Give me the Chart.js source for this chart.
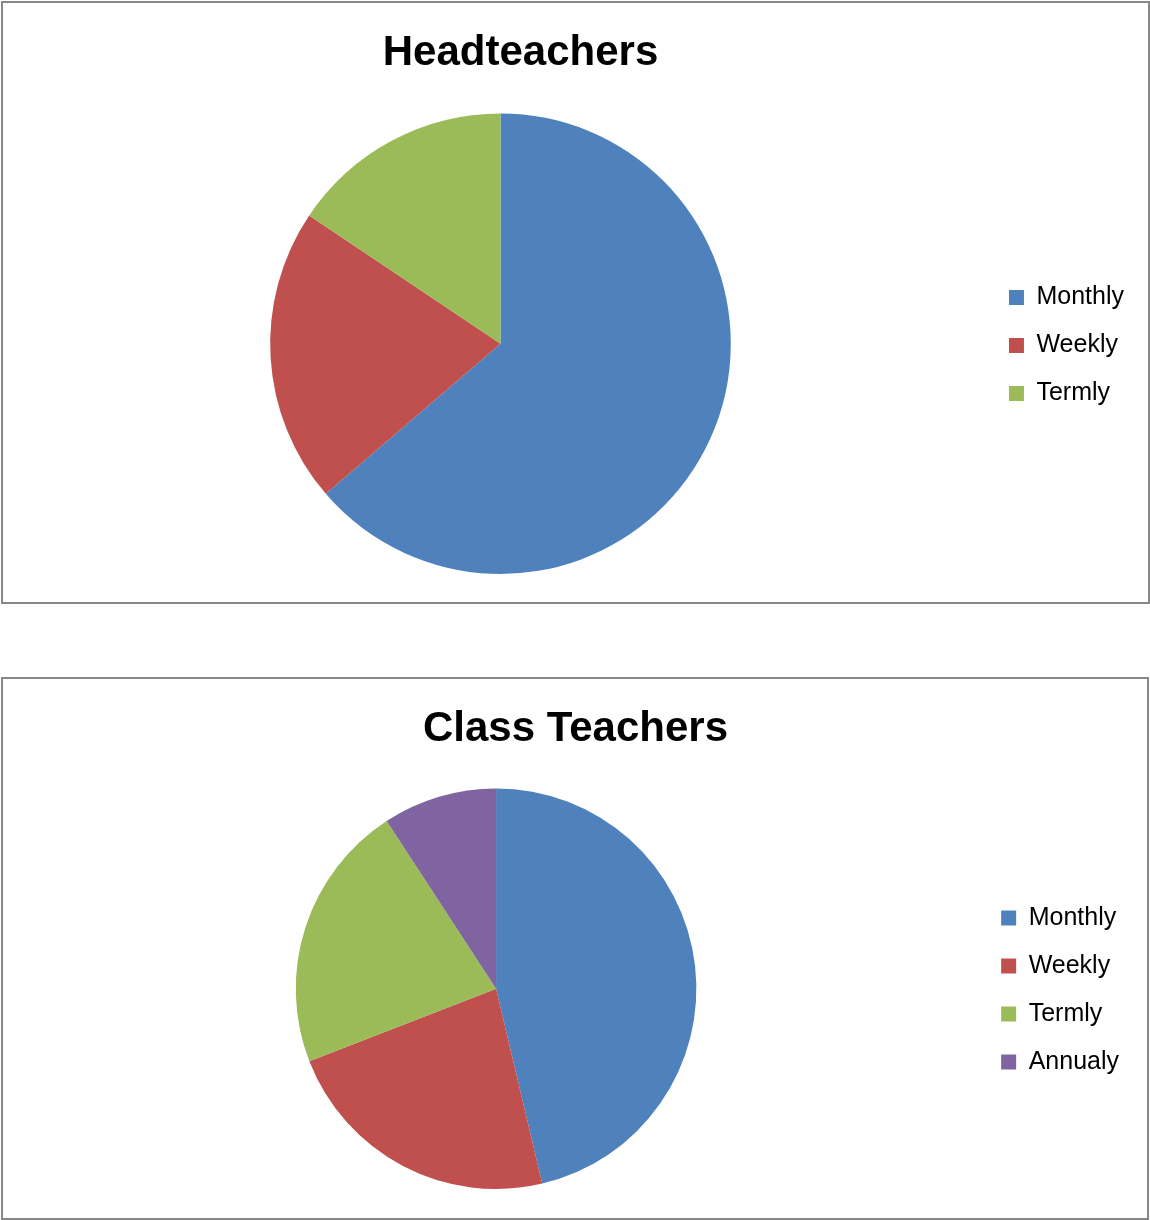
<!DOCTYPE html>
<html>
<head>
<meta charset="utf-8">
<script src="https://cdn.jsdelivr.net/npm/chart.js@4"></script>
<style>
  html, body { margin: 0; padding: 0; background: #fff; width: 1150px; height: 1220px; overflow: hidden; }
  .box { position: absolute; border: 2px solid #878787; background: #fff; }
  #box1 { left: 1px; top: 1px; width: 1145px; height: 599px; }
  #box2 { left: 1px; top: 677px; width: 1144px; height: 539px; }
  canvas { display: block; }
</style>
</head>
<body>
<div class="box" id="box1"><canvas id="c1" width="1145" height="599"></canvas></div>
<div class="box" id="box2"><canvas id="c2" width="1144" height="539"></canvas></div>
<script>
// ---- data ----
const headTitle = "Headteachers";
const headLabels = ["Monthly", "Weekly", "Termly"];
const headValues = [63.7, 20.7, 15.6];

const classTitle = "Class Teachers";
const classLabels = ["Monthly", "Weekly", "Termly", "Annualy"];
const classValues = [46.3, 22.8, 21.7, 9.2];

const palette = ["#4F81BD", "#C0504D", "#9BBB59", "#8064A2"];

const titleFont = { family: "'Liberation Sans', Arial, sans-serif", size: 42, weight: "bold" };
const legendFont = { family: "'Liberation Sans', Arial, sans-serif", size: 25 };

// shifts the title / legend blocks after layout
const blockShift = {
  id: 'blockShift',
  afterLayout(chart, args, opts) {
    if (chart.titleBlock && opts.titleDx) {
      chart.titleBlock.left += opts.titleDx;
      chart.titleBlock.right += opts.titleDx;
    }
    if (chart.legend && opts.legendDy) {
      chart.legend.top += opts.legendDy;
      chart.legend.bottom += opts.legendDy;
    }
  }
};

function makePie(id, title, labels, values, padding, titlePad, titleDx, legendDy) {
  return new Chart(document.getElementById(id), {
    type: 'pie',
    data: {
      labels: labels,
      datasets: [{
        data: values,
        backgroundColor: palette.slice(0, values.length),
        borderWidth: 0
      }]
    },
    options: {
      responsive: false,
      animation: false,
      layout: { padding: padding },
      plugins: {
        title: {
          display: true,
          text: title,
          color: '#000',
          font: titleFont,
          padding: titlePad
        },
        legend: {
          position: 'right',
          labels: {
            color: '#000',
            font: legendFont,
            boxWidth: 15,
            boxHeight: 15,
            padding: 23
          }
        },
        tooltip: { enabled: false },
        blockShift: { titleDx: titleDx, legendDy: legendDy }
      }
    },
    plugins: [blockShift]
  });
}

makePie('c1', headTitle, headLabels, headValues,
  { left: 12, right: 14, top: 0, bottom: 28 }, { top: 25, bottom: 35 }, -54, 57);
makePie('c2', classTitle, classLabels, classValues,
  { left: 11, right: 18, top: 0, bottom: 29 }, { top: 25, bottom: 34 }, 4, 56);
</script>
</body>
</html>
